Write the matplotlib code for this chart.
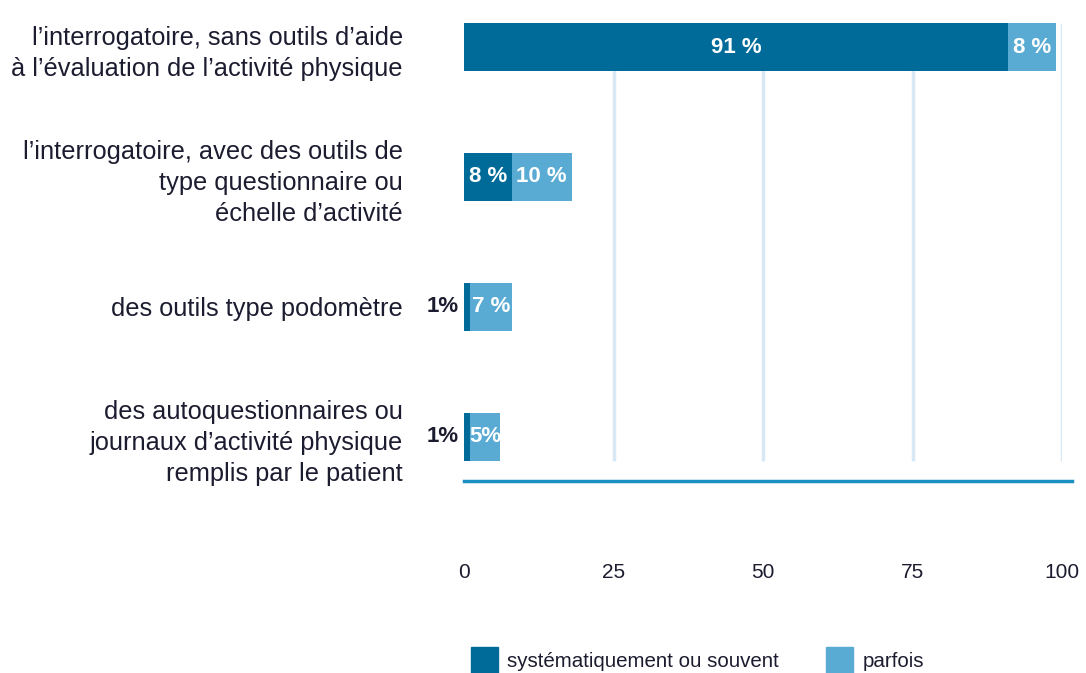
import matplotlib.pyplot as plt
from matplotlib.patches import Patch

plt.rcParams['font.family'] = ['Liberation Sans', 'DejaVu Sans']

categories = [
    "l\u2019interrogatoire, sans outils d\u2019aide\n\u00e0 l\u2019\u00e9valuation de l\u2019activit\u00e9 physique",
    "l\u2019interrogatoire, avec des outils de\ntype questionnaire ou\n\u00e9chelle d\u2019activit\u00e9",
    "des outils type podom\u00e8tre",
    "des autoquestionnaires ou\njournaux d\u2019activit\u00e9 physique\nremplis par le patient",
]
souvent = [91, 8, 1, 1]
parfois = [8, 10, 7, 5]
souvent_labels = ["91 %", "8 %", "1%", "1%"]
parfois_labels = ["8 %", "10 %", "7 %", "5%"]
xticks = [0, 25, 50, 75, 100]
series_names = ["syst\u00e9matiquement ou souvent", "parfois"]

dark = "#006b99"
light = "#5aabd3"
gridc = "#d8e8f4"
basec = "#1a90c2"
textc = "#1c1c30"

fig = plt.figure(figsize=(10.86, 6.73), dpi=100)
ax = fig.add_axes([464 / 1086, 1 - 481 / 673, 598 / 1086, 458 / 673])

y = list(range(len(categories)))
h = 0.37
ax.vlines(xticks[1:], -0.185, 3.185, color=gridc, lw=2.5, zorder=0)
ax.barh(y, souvent, height=h, color=dark, label=series_names[0], zorder=2)
ax.barh(y, parfois, left=souvent, height=h, color=light, label=series_names[1], zorder=2)

for i in y:
    if souvent[i] >= 4:
        ax.text(souvent[i] / 2, i, souvent_labels[i], ha='center', va='center',
                color='white', fontsize=16, fontweight='bold')
    else:
        ax.text(-0.8, i, souvent_labels[i], ha='right', va='center',
                color=textc, fontsize=16, fontweight='bold')
    ax.text(souvent[i] + parfois[i] / 2, i, parfois_labels[i], ha='center', va='center',
            color='white', fontsize=16, fontweight='bold')

ax.axhline(3.34, xmin=0, xmax=1.017, color=basec, lw=2.5, clip_on=False)

ax.set_xlim(0, 100)
ax.set_ylim(3.34, -0.185)
ax.set_xticks(xticks)
ax.set_xticklabels([str(t) for t in xticks], fontsize=15, color=textc)
ax.set_yticks(y)
ax.set_yticklabels(categories, fontsize=18.3, color=textc, linespacing=1.38)
ax.tick_params(axis='x', length=0, pad=59)
ax.tick_params(axis='y', length=0, pad=44)
for s in ax.spines.values():
    s.set_visible(False)

handles = [Patch(color=dark), Patch(color=light)]
fig.legend(handles, series_names, loc='lower left', bbox_to_anchor=(0.4245, -0.016),
           ncol=2, frameon=False, fontsize=14.8, handlelength=1.3, handleheight=1.6,
           handletextpad=0.45, columnspacing=2.3, borderpad=0, labelcolor=textc)

fig.savefig("out.png", dpi=100)
